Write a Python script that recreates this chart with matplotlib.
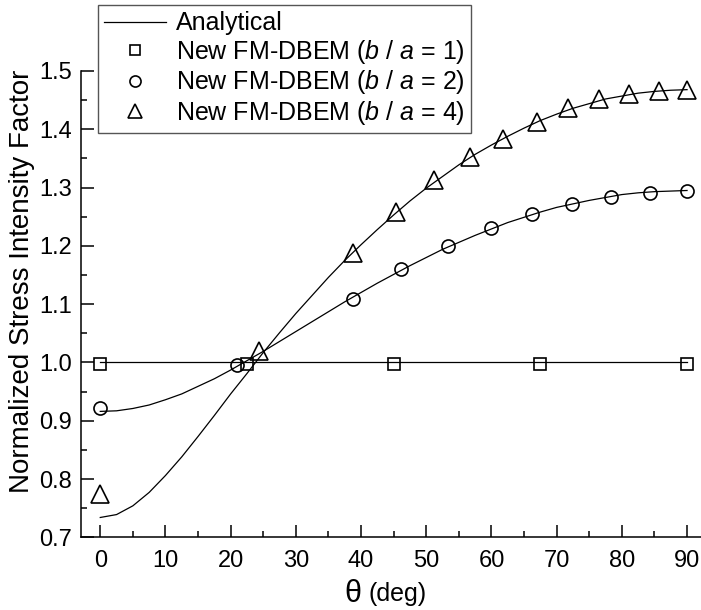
import matplotlib
matplotlib.use("Agg")
import matplotlib.pyplot as plt
from matplotlib.ticker import MultipleLocator, FormatStrFormatter

plt.rcParams['font.family'] = ['Liberation Sans', 'DejaVu Sans']
plt.rcParams['mathtext.fontset'] = 'custom'
plt.rcParams['mathtext.rm'] = 'Liberation Sans'
plt.rcParams['mathtext.it'] = 'Liberation Sans:italic'

# analytical curves, read every 2.5 deg
theta_an = [0, 2.5, 5, 7.5, 10, 12.5, 15, 17.5, 20, 22.5, 25, 27.5, 30, 32.5,
            35, 37.5, 40, 42.5, 45, 47.5, 50, 52.5, 55, 57.5, 60, 62.5, 65,
            67.5, 70, 72.5, 75, 77.5, 80, 82.5, 85, 87.5, 90]
an_2 = [0.916, 0.917, 0.921, 0.927, 0.936, 0.946, 0.959, 0.972, 0.987, 1.003,
        1.019, 1.036, 1.053, 1.070, 1.087, 1.104, 1.120, 1.136, 1.151, 1.166,
        1.180, 1.194, 1.206, 1.218, 1.229, 1.240, 1.249, 1.258, 1.266, 1.272,
        1.278, 1.283, 1.288, 1.291, 1.293, 1.294, 1.295]
an_4 = [0.734, 0.739, 0.754, 0.777, 0.806, 0.838, 0.873, 0.909, 0.946, 0.981,
        1.017, 1.051, 1.084, 1.115, 1.146, 1.175, 1.202, 1.228, 1.253, 1.277,
        1.299, 1.319, 1.339, 1.357, 1.373, 1.388, 1.402, 1.415, 1.426, 1.436,
        1.444, 1.452, 1.457, 1.462, 1.465, 1.467, 1.468]
theta_flat = [0, 90]
an_1 = [1.0, 1.0]

# FM-DBEM results
theta_1 = [0, 22.5, 45, 67.5, 90]
fm_1 = [0.997, 0.997, 0.997, 0.997, 0.997]
theta_2 = [0, 21, 38.7, 46.2, 53.3, 60.0, 66.2, 72.4, 78.4, 84.3, 90]
fm_2 = [0.922, 0.995, 1.108, 1.161, 1.200, 1.230, 1.254, 1.272, 1.284, 1.291, 1.294]
theta_4 = [0, 24.3, 38.7, 45.3, 51.2, 56.7, 61.8, 67.0, 71.7, 76.5, 81.1, 85.7, 90]
fm_4 = [0.775, 1.020, 1.187, 1.258, 1.313, 1.353, 1.384, 1.412, 1.436, 1.452,
        1.461, 1.466, 1.468]

W, H = 701, 610
fig = plt.figure(figsize=(W / 100, H / 100), dpi=100)
x0, x1 = 80.7, 706.6
y0, y1 = 537.3, 71.0
ax = fig.add_axes([x0 / W, 1 - y0 / H, (x1 - x0) / W, (y0 - y1) / H])

lw = 0.9
ax.plot(theta_flat, an_1, '-', color='black', lw=lw, label='Analytical')
ax.plot(theta_an, an_2, '-', color='black', lw=lw)
ax.plot(theta_an, an_4, '-', color='black', lw=lw)

mk = dict(linestyle='none', markerfacecolor='none', markeredgecolor='black',
          markeredgewidth=1.2)
ax.plot(theta_1, fm_1, marker='s', markersize=8.8,
        label='New FM-DBEM ($\\it{b}$ / $\\it{a}$ = 1)', **mk)
ax.plot(theta_2, fm_2, marker='o', markersize=9.4,
        label='New FM-DBEM ($\\it{b}$ / $\\it{a}$ = 2)', **mk)
ax.plot(theta_4, fm_4, marker='^', markersize=12.5,
        label='New FM-DBEM ($\\it{b}$ / $\\it{a}$ = 4)', **mk)

ax.set_xlim(-3, 93)
ax.set_ylim(0.7, 1.5)
ax.xaxis.set_major_locator(MultipleLocator(10))
ax.xaxis.set_minor_locator(MultipleLocator(5))
ax.yaxis.set_major_locator(MultipleLocator(0.1))
ax.yaxis.set_minor_locator(MultipleLocator(0.05))
ax.yaxis.set_major_formatter(FormatStrFormatter('%.1f'))
ax.tick_params(which='both', direction='in', width=1.1, labelsize=17)
ax.tick_params(which='major', length=9)
ax.tick_params(which='minor', length=4.5)
ax.tick_params(axis='x', pad=9)
ax.tick_params(axis='y', pad=6)

for side in ['top', 'right']:
    ax.spines[side].set_visible(False)
for side in ['left', 'bottom']:
    ax.spines[side].set_linewidth(1.1)

ax.set_ylabel('Normalized Stress Intensity Factor', fontsize=20, labelpad=3)
ax.yaxis.label.set_y(0.55)

# x label: bigger theta, then (deg)
fig.text(361 / W, 1 - 594 / H, 'θ', fontsize=22, ha='right', va='center')
fig.text(369 / W, 1 - 594 / H, '(deg)', fontsize=18, ha='left', va='center')

leg = ax.legend(loc='upper left', bbox_to_anchor=(97.7 / W, 1 - 5 / H),
                bbox_transform=fig.transFigure, borderaxespad=0,
                fancybox=False, framealpha=1, edgecolor='#555555',
                fontsize=18, handlelength=2.5, handletextpad=0.4,
                labelspacing=0.1, borderpad=0.25, markerscale=0.85)
leg.get_frame().set_linewidth(1.0)

fig.savefig('out.png', dpi=100)
